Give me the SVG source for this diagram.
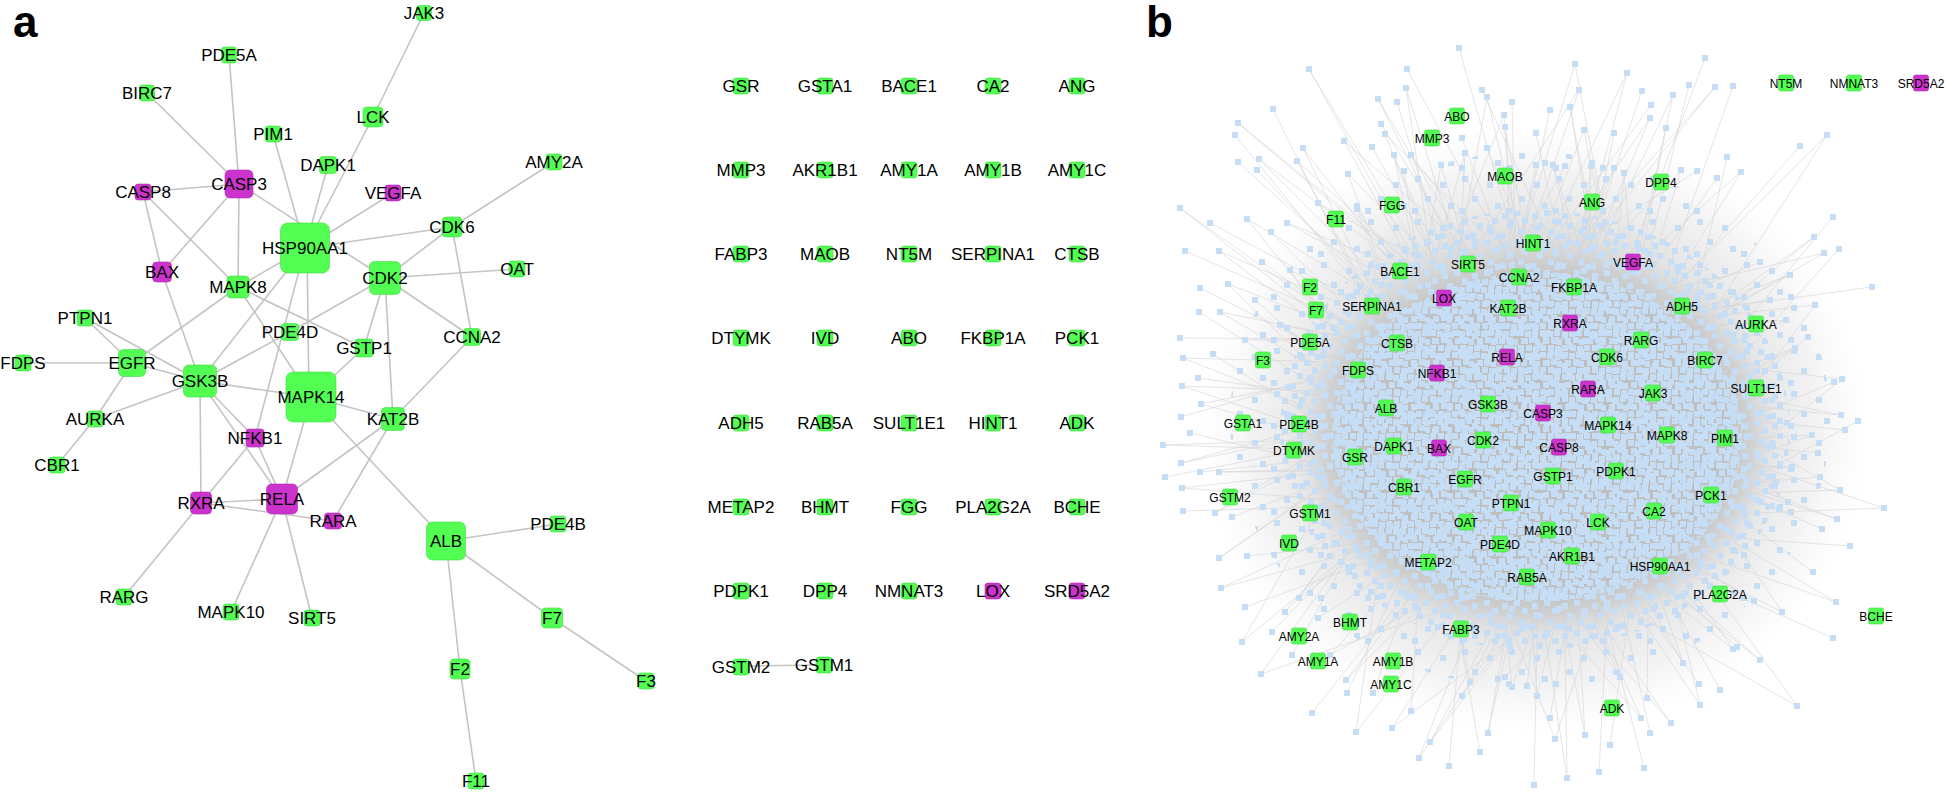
<svg xmlns="http://www.w3.org/2000/svg" width="1946" height="794" viewBox="0 0 1946 794">
<style>
text{font-family:"Liberation Sans",Arial,sans-serif;fill:#000;text-anchor:middle}
.t{font-size:17px}
.s{font-size:12px}
.e line{stroke:#c4c4c4;stroke-width:1.6}
.g{fill:#52ff52;stroke:#3fd83f;stroke-width:0.6}
.m{fill:#cc33cc;stroke:#b02cb0;stroke-width:0.6}
.big{font-size:44px;font-weight:bold;text-anchor:start}
</style>
<defs>
<pattern id="pD" width="22" height="22" patternUnits="userSpaceOnUse"><path fill="#c5ddf5" d="M0 0h6v6h-6zM7 1h6v6h-6zM14 0h6v6h-6zM3 8h6v6h-6zM11 7h6v6h-6zM17 9h5v6h-5zM0 15h6v6h-6zM8 15h6v6h-6zM15 16h6v6h-6z"/></pattern>
<pattern id="pM" width="30" height="30" patternUnits="userSpaceOnUse"><path fill="#c5ddf5" d="M2 3h6v6h-6zM14 0h6v6h-6zM22 8h6v6h-6zM7 13h6v6h-6zM18 19h6v6h-6zM0 23h6v6h-6zM25 24h5v6h-5z"/></pattern>
<pattern id="pS" width="47" height="43" patternUnits="userSpaceOnUse"><path fill="#c5ddf5" d="M5 4h6v6h-6zM30 10h6v6h-6zM15 24h6v6h-6zM38 31h6v6h-6zM2 36h6v6h-6z"/></pattern>
<radialGradient id="gh"><stop offset="0" stop-color="#c8c8c8" stop-opacity="1"/><stop offset="0.6" stop-color="#d2d2d2" stop-opacity="0.8"/><stop offset="0.85" stop-color="#e2e2e2" stop-opacity="0.4"/><stop offset="1" stop-color="#eeeeee" stop-opacity="0"/></radialGradient>
<radialGradient id="gc"><stop offset="0" stop-color="#bcbcbc"/><stop offset="0.78" stop-color="#c0c0c0"/><stop offset="0.9" stop-color="#cacaca" stop-opacity="0.6"/><stop offset="1" stop-color="#d8d8d8" stop-opacity="0"/></radialGradient>
</defs>
<rect width="1946" height="794" fill="#fff"/>
<text class="big" x="13" y="37">a</text>
<text class="big" x="1146" y="37">b</text>

<g id="edges-a" class="e">
<line x1="424" y1="13" x2="373" y2="117"/><line x1="373" y1="117" x2="305" y2="248"/><line x1="229" y1="55" x2="239" y2="184"/><line x1="147" y1="93" x2="239" y2="184"/><line x1="273" y1="134" x2="305" y2="248"/><line x1="328" y1="165" x2="305" y2="248"/><line x1="143" y1="192" x2="239" y2="184"/><line x1="239" y1="184" x2="385" y2="278"/><line x1="239" y1="184" x2="238" y2="287"/><line x1="239" y1="184" x2="162" y2="272"/><line x1="143" y1="192" x2="162" y2="272"/><line x1="143" y1="192" x2="238" y2="287"/><line x1="393" y1="193" x2="305" y2="248"/><line x1="554" y1="162" x2="452" y2="227"/><line x1="452" y1="227" x2="305" y2="248"/><line x1="452" y1="227" x2="385" y2="278"/><line x1="452" y1="227" x2="472" y2="337"/><line x1="517" y1="269" x2="385" y2="278"/><line x1="305" y1="248" x2="238" y2="287"/><line x1="307" y1="248" x2="309" y2="397"/><line x1="305" y1="248" x2="200" y2="381"/><line x1="305" y1="248" x2="255" y2="438"/><line x1="238" y1="287" x2="132" y2="363"/><line x1="238" y1="287" x2="364" y2="348"/><line x1="238" y1="287" x2="311" y2="397"/><line x1="385" y1="278" x2="290" y2="332"/><line x1="290" y1="332" x2="200" y2="381"/><line x1="385" y1="278" x2="364" y2="348"/><line x1="385" y1="278" x2="393" y2="419"/><line x1="385" y1="278" x2="472" y2="337"/><line x1="472" y1="337" x2="393" y2="419"/><line x1="364" y1="348" x2="311" y2="397"/><line x1="85" y1="318" x2="132" y2="363"/><line x1="85" y1="318" x2="200" y2="381"/><line x1="23" y1="363" x2="132" y2="363"/><line x1="132" y1="363" x2="200" y2="381"/><line x1="132" y1="363" x2="95" y2="419"/><line x1="162" y1="272" x2="200" y2="381"/><line x1="200" y1="381" x2="311" y2="397"/><line x1="200" y1="381" x2="95" y2="419"/><line x1="200" y1="381" x2="255" y2="438"/><line x1="200" y1="381" x2="282" y2="499"/><line x1="200" y1="381" x2="201" y2="503"/><line x1="311" y1="397" x2="282" y2="499"/><line x1="311" y1="397" x2="393" y2="419"/><line x1="311" y1="397" x2="446" y2="541"/><line x1="393" y1="419" x2="282" y2="499"/><line x1="393" y1="419" x2="333" y2="521"/><line x1="255" y1="438" x2="282" y2="499"/><line x1="255" y1="438" x2="201" y2="503"/><line x1="95" y1="419" x2="57" y2="465"/><line x1="201" y1="503" x2="282" y2="499"/><line x1="201" y1="503" x2="333" y2="521"/><line x1="201" y1="503" x2="124" y2="597"/><line x1="282" y1="499" x2="231" y2="612"/><line x1="282" y1="499" x2="312" y2="618"/><line x1="446" y1="541" x2="558" y2="524"/><line x1="446" y1="541" x2="552" y2="618"/><line x1="552" y1="618" x2="646" y2="681"/><line x1="446" y1="541" x2="460" y2="669"/><line x1="460" y1="669" x2="476" y2="781"/>
<line x1="749" y1="666" x2="816" y2="665"/>
</g>

<g id="nodes-a">
<g id="a-JAK3"><rect class="g" x="416.5" y="5.5" width="15" height="15" rx="3"/><text class="t" x="424" y="19">JAK3</text></g>
<g id="a-PDE5A"><rect class="g" x="221.5" y="47" width="15" height="16" rx="3"/><text class="t" x="229" y="61">PDE5A</text></g>
<g id="a-BIRC7"><rect class="g" x="139.5" y="85" width="15" height="16" rx="3"/><text class="t" x="147" y="99">BIRC7</text></g>
<g id="a-LCK"><rect class="g" x="363" y="107" width="20" height="20" rx="4"/><text class="t" x="373" y="123">LCK</text></g>
<g id="a-PIM1"><rect class="g" x="265" y="126" width="16" height="16" rx="3"/><text class="t" x="273" y="140">PIM1</text></g>
<g id="a-DAPK1"><rect class="g" x="319.5" y="156.5" width="17" height="17" rx="3"/><text class="t" x="328" y="171">DAPK1</text></g>
<g id="a-AMY2A"><rect class="g" x="546" y="154" width="16" height="16" rx="3"/><text class="t" x="554" y="168">AMY2A</text></g>
<g id="a-CASP3"><rect class="m" x="225" y="170" width="28" height="28" rx="5"/><text class="t" x="239" y="190">CASP3</text></g>
<g id="a-CASP8"><rect class="m" x="135" y="184" width="16" height="16" rx="3"/><text class="t" x="143" y="198">CASP8</text></g>
<g id="a-VEGFA"><rect class="m" x="385" y="185" width="16" height="16" rx="3"/><text class="t" x="393" y="199">VEGFA</text></g>
<g id="a-CDK6"><rect class="g" x="442" y="217" width="20" height="20" rx="4"/><text class="t" x="452" y="233">CDK6</text></g>
<g id="a-HSP90AA1"><rect class="g" x="280.5" y="223" width="49" height="50" rx="7"/><text class="t" x="305" y="254">HSP90AA1</text></g>
<g id="a-BAX"><rect class="m" x="152.5" y="262" width="19" height="20" rx="4"/><text class="t" x="162" y="278">BAX</text></g>
<g id="a-MAPK8"><rect class="g" x="227" y="276" width="22" height="22" rx="4"/><text class="t" x="238" y="293">MAPK8</text></g>
<g id="a-CDK2"><rect class="g" x="369.5" y="261.5" width="31" height="33" rx="5"/><text class="t" x="385" y="284">CDK2</text></g>
<g id="a-OAT"><rect class="g" x="509" y="261" width="16" height="16" rx="3"/><text class="t" x="517" y="275">OAT</text></g>
<g id="a-PTPN1"><rect class="g" x="77" y="310" width="16" height="16" rx="3"/><text class="t" x="85" y="324">PTPN1</text></g>
<g id="a-PDE4D"><rect class="g" x="281.5" y="323.5" width="17" height="17" rx="3"/><text class="t" x="290" y="338">PDE4D</text></g>
<g id="a-GSTP1"><rect class="g" x="355" y="339" width="18" height="18" rx="3"/><text class="t" x="364" y="354">GSTP1</text></g>
<g id="a-CCNA2"><rect class="g" x="463.5" y="328.5" width="17" height="17" rx="3"/><text class="t" x="472" y="343">CCNA2</text></g>
<g id="a-FDPS"><rect class="g" x="15" y="355" width="16" height="16" rx="3"/><text class="t" x="23" y="369">FDPS</text></g>
<g id="a-EGFR"><rect class="g" x="118.5" y="349.5" width="27" height="27" rx="5"/><text class="t" x="132" y="369">EGFR</text></g>
<g id="a-GSK3B"><rect class="g" x="183.5" y="365" width="33" height="32" rx="5"/><text class="t" x="200" y="387">GSK3B</text></g>
<g id="a-MAPK14"><rect class="g" x="286" y="372" width="50" height="50" rx="7"/><text class="t" x="311" y="403">MAPK14</text></g>
<g id="a-KAT2B"><rect class="g" x="381.5" y="407.5" width="23" height="23" rx="4"/><text class="t" x="393" y="425">KAT2B</text></g>
<g id="a-AURKA"><rect class="g" x="87" y="411" width="16" height="16" rx="3"/><text class="t" x="95" y="425">AURKA</text></g>
<g id="a-NFKB1"><rect class="m" x="246" y="429" width="18" height="18" rx="3"/><text class="t" x="255" y="444">NFKB1</text></g>
<g id="a-CBR1"><rect class="g" x="49" y="457" width="16" height="16" rx="3"/><text class="t" x="57" y="471">CBR1</text></g>
<g id="a-RXRA"><rect class="m" x="190.5" y="492" width="21" height="22" rx="4"/><text class="t" x="201" y="509">RXRA</text></g>
<g id="a-RELA"><rect class="m" x="266.5" y="484" width="31" height="30" rx="5"/><text class="t" x="282" y="505">RELA</text></g>
<g id="a-RARA"><rect class="m" x="324.5" y="513" width="17" height="16" rx="3"/><text class="t" x="333" y="527">RARA</text></g>
<g id="a-ALB"><rect class="g" x="426.5" y="522" width="39" height="38" rx="6"/><text class="t" x="446" y="547">ALB</text></g>
<g id="a-PDE4B"><rect class="g" x="550" y="516" width="16" height="16" rx="3"/><text class="t" x="558" y="530">PDE4B</text></g>
<g id="a-RARG"><rect class="g" x="116" y="589" width="16" height="16" rx="3"/><text class="t" x="124" y="603">RARG</text></g>
<g id="a-MAPK10"><rect class="g" x="223" y="604" width="16" height="16" rx="3"/><text class="t" x="231" y="618">MAPK10</text></g>
<g id="a-SIRT5"><rect class="g" x="304" y="610" width="16" height="16" rx="3"/><text class="t" x="312" y="624">SIRT5</text></g>
<g id="a-F7"><rect class="g" x="541.5" y="608" width="21" height="20" rx="4"/><text class="t" x="552" y="624">F7</text></g>
<g id="a-F2"><rect class="g" x="450" y="659" width="20" height="20" rx="4"/><text class="t" x="460" y="675">F2</text></g>
<g id="a-F3"><rect class="g" x="638" y="673" width="16" height="16" rx="3"/><text class="t" x="646" y="687">F3</text></g>
<g id="a-F11"><rect class="g" x="468" y="773" width="16" height="16" rx="3"/><text class="t" x="476" y="787">F11</text></g>
</g>

<g id="nodes-grid">
<g id="c-GSR"><rect class="g" x="733" y="78" width="16" height="16" rx="3"/><text class="t" x="741" y="92">GSR</text></g>
<g id="c-GSTA1"><rect class="g" x="817" y="78" width="16" height="16" rx="3"/><text class="t" x="825" y="92">GSTA1</text></g>
<g id="c-BACE1"><rect class="g" x="901" y="78" width="16" height="16" rx="3"/><text class="t" x="909" y="92">BACE1</text></g>
<g id="c-CA2"><rect class="g" x="985" y="78" width="16" height="16" rx="3"/><text class="t" x="993" y="92">CA2</text></g>
<g id="c-ANG"><rect class="g" x="1069" y="78" width="16" height="16" rx="3"/><text class="t" x="1077" y="92">ANG</text></g>
<g id="c-MMP3"><rect class="g" x="733" y="162" width="16" height="16" rx="3"/><text class="t" x="741" y="176">MMP3</text></g>
<g id="c-AKR1B1"><rect class="g" x="817" y="162" width="16" height="16" rx="3"/><text class="t" x="825" y="176">AKR1B1</text></g>
<g id="c-AMY1A"><rect class="g" x="901" y="162" width="16" height="16" rx="3"/><text class="t" x="909" y="176">AMY1A</text></g>
<g id="c-AMY1B"><rect class="g" x="985" y="162" width="16" height="16" rx="3"/><text class="t" x="993" y="176">AMY1B</text></g>
<g id="c-AMY1C"><rect class="g" x="1069" y="162" width="16" height="16" rx="3"/><text class="t" x="1077" y="176">AMY1C</text></g>
<g id="c-FABP3"><rect class="g" x="733" y="246" width="16" height="16" rx="3"/><text class="t" x="741" y="260">FABP3</text></g>
<g id="c-MAOB"><rect class="g" x="817" y="246" width="16" height="16" rx="3"/><text class="t" x="825" y="260">MAOB</text></g>
<g id="c-NT5M"><rect class="g" x="901" y="246" width="16" height="16" rx="3"/><text class="t" x="909" y="260">NT5M</text></g>
<g id="c-SERPINA1"><rect class="g" x="985" y="246" width="16" height="16" rx="3"/><text class="t" x="993" y="260">SERPINA1</text></g>
<g id="c-CTSB"><rect class="g" x="1069" y="246" width="16" height="16" rx="3"/><text class="t" x="1077" y="260">CTSB</text></g>
<g id="c-DTYMK"><rect class="g" x="733" y="330" width="16" height="16" rx="3"/><text class="t" x="741" y="344">DTYMK</text></g>
<g id="c-IVD"><rect class="g" x="817" y="330" width="16" height="16" rx="3"/><text class="t" x="825" y="344">IVD</text></g>
<g id="c-ABO"><rect class="g" x="901" y="330" width="16" height="16" rx="3"/><text class="t" x="909" y="344">ABO</text></g>
<g id="c-FKBP1A"><rect class="g" x="985" y="330" width="16" height="16" rx="3"/><text class="t" x="993" y="344">FKBP1A</text></g>
<g id="c-PCK1"><rect class="g" x="1069" y="330" width="16" height="16" rx="3"/><text class="t" x="1077" y="344">PCK1</text></g>
<g id="c-ADH5"><rect class="g" x="733" y="415" width="16" height="16" rx="3"/><text class="t" x="741" y="429">ADH5</text></g>
<g id="c-RAB5A"><rect class="g" x="817" y="415" width="16" height="16" rx="3"/><text class="t" x="825" y="429">RAB5A</text></g>
<g id="c-SULT1E1"><rect class="g" x="901" y="415" width="16" height="16" rx="3"/><text class="t" x="909" y="429">SULT1E1</text></g>
<g id="c-HINT1"><rect class="g" x="985" y="415" width="16" height="16" rx="3"/><text class="t" x="993" y="429">HINT1</text></g>
<g id="c-ADK"><rect class="g" x="1069" y="415" width="16" height="16" rx="3"/><text class="t" x="1077" y="429">ADK</text></g>
<g id="c-METAP2"><rect class="g" x="733" y="499" width="16" height="16" rx="3"/><text class="t" x="741" y="513">METAP2</text></g>
<g id="c-BHMT"><rect class="g" x="817" y="499" width="16" height="16" rx="3"/><text class="t" x="825" y="513">BHMT</text></g>
<g id="c-FGG"><rect class="g" x="901" y="499" width="16" height="16" rx="3"/><text class="t" x="909" y="513">FGG</text></g>
<g id="c-PLA2G2A"><rect class="g" x="985" y="499" width="16" height="16" rx="3"/><text class="t" x="993" y="513">PLA2G2A</text></g>
<g id="c-BCHE"><rect class="g" x="1069" y="499" width="16" height="16" rx="3"/><text class="t" x="1077" y="513">BCHE</text></g>
<g id="c-PDPK1"><rect class="g" x="733" y="583" width="16" height="16" rx="3"/><text class="t" x="741" y="597">PDPK1</text></g>
<g id="c-DPP4"><rect class="g" x="817" y="583" width="16" height="16" rx="3"/><text class="t" x="825" y="597">DPP4</text></g>
<g id="c-NMNAT3"><rect class="g" x="901" y="583" width="16" height="16" rx="3"/><text class="t" x="909" y="597">NMNAT3</text></g>
<g id="c-LOX"><rect class="m" x="985" y="583" width="16" height="16" rx="3"/><text class="t" x="993" y="597">LOX</text></g>
<g id="c-SRD5A2"><rect class="m" x="1069" y="583" width="16" height="16" rx="3"/><text class="t" x="1077" y="597">SRD5A2</text></g>
<g id="c-GSTM2"><rect class="g" x="733" y="659" width="16" height="16" rx="3"/><text class="t" x="741" y="673">GSTM2</text></g>
<g id="c-GSTM1"><rect class="g" x="816" y="657" width="16" height="16" rx="3"/><text class="t" x="824" y="671">GSTM1</text></g>
</g>

<g id="cloud-b">
<ellipse cx="1535" cy="430" rx="335" ry="305" fill="url(#gh)"/>
<path fill="none" stroke="#d3d3d3" stroke-width="0.6" d="M1459 48L1560 400M1309 69L1520 450M1309 69L1580 520M1407 69L1600 430M1575 64L1450 470M1575 64L1650 460M1705 58L1540 500M1627 73L1500 340M1627 73L1560 330M1689 85L1620 370M1715 87L1430 410M1715 87L1480 380M1733 86L1580 520M1406 88L1470 520M1406 88L1520 450M1482 90L1650 460M1579 90L1410 350M1579 90L1450 470M1642 91L1560 330M1378 99L1640 540M1378 99L1500 340M1397 102L1480 380M1487 97L1560 400M1487 97L1430 410M1512 102L1520 450M1673 95L1600 430M1673 95L1470 520M1273 109L1450 470M1504 115L1540 500M1504 115L1410 350M1550 110L1500 340M1570 107L1620 370M1570 107L1640 540M1651 105L1430 410M1827 135L1580 520M1827 135L1560 400M1800 146L1470 520M1238 123L1650 460M1238 123L1600 430M1235 135L1410 350M1344 141L1560 330M1344 141L1540 500M1381 124L1640 540M1385 134L1480 380M1385 134L1620 370M1462 138L1560 400M1505 127L1520 450M1505 127L1580 520M1536 133L1600 430M1584 130L1450 470M1584 130L1650 460M1614 133L1540 500M1650 118L1500 340M1650 118L1560 330M1666 128L1620 370M1303 148L1430 410M1303 148L1480 380M1372 147L1580 520M1394 155L1470 520M1394 155L1520 450M1411 155L1650 460M1465 153L1410 350M1465 153L1450 470M1487 148L1560 330M1259 159L1640 540M1259 159L1500 340M1238 162L1480 380M1297 161L1560 400M1297 161L1430 410M1257 170L1520 450M1348 174L1600 430M1348 174L1470 520M1404 171L1450 470M1441 165L1540 500M1441 165L1410 350M1536 165L1500 340M1553 165L1620 370M1553 165L1640 540M1565 166L1430 410M1591 166L1580 520M1591 166L1560 400M1614 168L1470 520M1624 173L1650 460M1624 173L1600 430M1697 171L1410 350M1741 172L1560 330M1741 172L1540 500M1727 157L1640 540M1681 170L1480 380M1681 170L1620 370M1717 178L1560 400M1180 208L1520 450M1180 208L1580 520M1210 223L1600 430M1247 219L1450 470M1247 219L1650 460M1271 232L1540 500M1287 223L1500 340M1287 223L1560 330M1318 203L1620 370M1357 209L1430 410M1357 209L1480 380M1833 217L1580 520M1814 237L1470 520M1814 237L1520 450M1839 249L1650 460M1824 253L1410 350M1824 253L1450 470M1872 287L1560 330M1842 379L1640 540M1842 379L1500 340M1185 251L1480 380M1219 251L1560 400M1219 251L1430 410M1200 288L1520 450M1228 284L1600 430M1228 284L1470 520M1199 312L1450 470M1220 312L1540 500M1220 312L1410 350M1180 338L1500 340M1183 358L1620 370M1183 358L1640 540M1198 378L1430 410M1182 386L1580 520M1182 386L1560 400M1213 354L1470 520M1163 445L1650 460M1163 445L1600 430M1181 417L1410 350M1201 404L1560 330M1201 404L1540 500M1190 433L1640 540M1181 463L1480 380M1181 463L1620 370M1165 477L1560 400M1182 488L1520 450M1182 488L1580 520M1200 472L1600 430M1219 472L1450 470M1219 472L1650 460M1183 511L1540 500M1215 513L1500 340M1215 513L1560 330M1232 517L1620 370M1219 558L1430 410M1219 558L1480 380M1247 556L1580 520M1221 588L1470 520M1221 588L1520 450M1245 607L1650 460M1242 642L1410 350M1242 642L1450 470M1272 632L1560 330M1261 674L1640 540M1261 674L1500 340M1285 612L1480 380M1299 598L1560 400M1299 598L1430 410M1312 713L1520 450M1346 680L1600 430M1346 680L1470 520M1347 693L1450 470M1356 732L1540 500M1356 732L1410 350M1373 693L1500 340M1392 728L1620 370M1392 728L1640 540M1411 711L1430 410M1419 758L1580 520M1419 758L1560 400M1449 766L1470 520M1462 696L1650 460M1462 696L1600 430M1470 682L1410 350M1488 733L1560 330M1488 733L1540 500M1505 677L1640 540M1512 687L1480 380M1512 687L1620 370M1527 686L1560 400M1537 696L1520 450M1537 696L1580 520M1550 718L1600 430M1555 739L1450 470M1555 739L1650 460M1534 785L1540 500M1567 778L1500 340M1567 778L1560 330M1599 772L1620 370M1620 677L1430 410M1620 677L1480 380M1644 768L1580 520M1641 718L1470 520M1641 718L1520 450M1647 698L1650 460M1671 723L1410 350M1671 723L1450 470M1650 733L1560 330M1683 663L1640 540M1683 663L1500 340M1699 684L1480 380M1733 649L1560 400M1733 649L1430 410M1737 647L1520 450M1797 706L1600 430M1797 706L1470 520M1833 638L1450 470M1836 602L1540 500M1836 602L1410 350M1813 572L1500 340M1782 612L1620 370M1782 612L1640 540M1754 601L1430 410M1884 508L1580 520M1884 508L1560 400M1850 546L1470 520M1837 519L1650 460M1837 519L1600 430M1822 529L1410 350M1840 490L1560 330M1840 490L1540 500M1858 421L1640 540M1841 415L1480 380M1841 415L1620 370M1845 430L1560 400M1812 435L1520 450M1812 435L1580 520M1818 453L1600 430M1792 467L1450 470M1792 467L1650 460M1820 477L1540 500M1776 482L1500 340M1776 482L1560 330M1788 502L1620 370M1779 509L1430 410M1779 509L1480 380M1808 337L1580 520M1795 348L1470 520M1795 348L1520 450M1834 382L1650 460M1786 320L1410 350M1786 320L1450 470M1770 300L1560 330M1815 305L1640 540M1815 305L1500 340M1760 262L1480 380M1790 275L1560 400M1790 275L1430 410M1262 262L1520 450M1290 270L1600 430M1290 270L1470 520M1255 300L1450 470M1280 325L1540 500M1280 325L1410 350M1245 340L1500 340M1300 355L1620 370M1300 355L1640 540M1292 655L1430 410M1330 655L1580 520M1330 655L1560 400M1318 618L1470 520M1430 742L1650 460M1430 742L1600 430M1480 752L1410 350M1585 735L1560 330M1585 735L1540 500M1610 745L1640 540M1700 705L1480 380M1700 705L1620 370M1720 690L1560 400M1760 660L1520 450M1760 660L1580 520"/>
<ellipse cx="1537" cy="437" rx="240" ry="198" fill="url(#gc)"/>
<ellipse cx="1530" cy="420" rx="300" ry="268" fill="url(#pS)"/>
<ellipse cx="1535" cy="430" rx="255" ry="220" fill="url(#pM)"/>
<ellipse cx="1537" cy="437" rx="205" ry="165" fill="url(#pD)"/>
<path fill="#c5ddf5" d="M1456 45h6v6h-6zM1306 66h6v6h-6zM1404 66h6v6h-6zM1572 61h6v6h-6zM1702 55h6v6h-6zM1624 70h6v6h-6zM1686 82h6v6h-6zM1712 84h6v6h-6zM1730 83h6v6h-6zM1403 85h6v6h-6zM1479 87h6v6h-6zM1576 87h6v6h-6zM1639 88h6v6h-6zM1375 96h6v6h-6zM1394 99h6v6h-6zM1484 94h6v6h-6zM1509 99h6v6h-6zM1670 92h6v6h-6zM1270 106h6v6h-6zM1501 112h6v6h-6zM1547 107h6v6h-6zM1567 104h6v6h-6zM1648 102h6v6h-6zM1824 132h6v6h-6zM1797 143h6v6h-6zM1235 120h6v6h-6zM1232 132h6v6h-6zM1341 138h6v6h-6zM1378 121h6v6h-6zM1382 131h6v6h-6zM1459 135h6v6h-6zM1502 124h6v6h-6zM1533 130h6v6h-6zM1581 127h6v6h-6zM1611 130h6v6h-6zM1647 115h6v6h-6zM1663 125h6v6h-6zM1300 145h6v6h-6zM1369 144h6v6h-6zM1391 152h6v6h-6zM1408 152h6v6h-6zM1462 150h6v6h-6zM1484 145h6v6h-6zM1256 156h6v6h-6zM1235 159h6v6h-6zM1294 158h6v6h-6zM1254 167h6v6h-6zM1345 171h6v6h-6zM1401 168h6v6h-6zM1438 162h6v6h-6zM1533 162h6v6h-6zM1550 162h6v6h-6zM1562 163h6v6h-6zM1588 163h6v6h-6zM1611 165h6v6h-6zM1621 170h6v6h-6zM1694 168h6v6h-6zM1738 169h6v6h-6zM1724 154h6v6h-6zM1678 167h6v6h-6zM1714 175h6v6h-6zM1177 205h6v6h-6zM1207 220h6v6h-6zM1244 216h6v6h-6zM1268 229h6v6h-6zM1284 220h6v6h-6zM1315 200h6v6h-6zM1354 206h6v6h-6zM1830 214h6v6h-6zM1811 234h6v6h-6zM1836 246h6v6h-6zM1821 250h6v6h-6zM1869 284h6v6h-6zM1839 376h6v6h-6zM1182 248h6v6h-6zM1216 248h6v6h-6zM1197 285h6v6h-6zM1225 281h6v6h-6zM1196 309h6v6h-6zM1217 309h6v6h-6zM1177 335h6v6h-6zM1180 355h6v6h-6zM1195 375h6v6h-6zM1179 383h6v6h-6zM1210 351h6v6h-6zM1160 442h6v6h-6zM1178 414h6v6h-6zM1198 401h6v6h-6zM1187 430h6v6h-6zM1178 460h6v6h-6zM1162 474h6v6h-6zM1179 485h6v6h-6zM1197 469h6v6h-6zM1216 469h6v6h-6zM1180 508h6v6h-6zM1212 510h6v6h-6zM1229 514h6v6h-6zM1216 555h6v6h-6zM1244 553h6v6h-6zM1218 585h6v6h-6zM1242 604h6v6h-6zM1239 639h6v6h-6zM1269 629h6v6h-6zM1258 671h6v6h-6zM1282 609h6v6h-6zM1296 595h6v6h-6zM1309 710h6v6h-6zM1343 677h6v6h-6zM1344 690h6v6h-6zM1353 729h6v6h-6zM1370 690h6v6h-6zM1389 725h6v6h-6zM1408 708h6v6h-6zM1416 755h6v6h-6zM1446 763h6v6h-6zM1459 693h6v6h-6zM1467 679h6v6h-6zM1485 730h6v6h-6zM1502 674h6v6h-6zM1509 684h6v6h-6zM1524 683h6v6h-6zM1534 693h6v6h-6zM1547 715h6v6h-6zM1552 736h6v6h-6zM1531 782h6v6h-6zM1564 775h6v6h-6zM1596 769h6v6h-6zM1617 674h6v6h-6zM1641 765h6v6h-6zM1638 715h6v6h-6zM1644 695h6v6h-6zM1668 720h6v6h-6zM1647 730h6v6h-6zM1680 660h6v6h-6zM1696 681h6v6h-6zM1730 646h6v6h-6zM1734 644h6v6h-6zM1794 703h6v6h-6zM1830 635h6v6h-6zM1833 599h6v6h-6zM1810 569h6v6h-6zM1779 609h6v6h-6zM1751 598h6v6h-6zM1881 505h6v6h-6zM1847 543h6v6h-6zM1834 516h6v6h-6zM1819 526h6v6h-6zM1837 487h6v6h-6zM1855 418h6v6h-6zM1838 412h6v6h-6zM1842 427h6v6h-6zM1809 432h6v6h-6zM1815 450h6v6h-6zM1789 464h6v6h-6zM1817 474h6v6h-6zM1773 479h6v6h-6zM1785 499h6v6h-6zM1776 506h6v6h-6zM1805 334h6v6h-6zM1792 345h6v6h-6zM1831 379h6v6h-6zM1783 317h6v6h-6zM1767 297h6v6h-6zM1812 302h6v6h-6zM1757 259h6v6h-6zM1787 272h6v6h-6zM1259 259h6v6h-6zM1287 267h6v6h-6zM1252 297h6v6h-6zM1277 322h6v6h-6zM1242 337h6v6h-6zM1297 352h6v6h-6zM1289 652h6v6h-6zM1327 652h6v6h-6zM1315 615h6v6h-6zM1427 739h6v6h-6zM1477 749h6v6h-6zM1582 732h6v6h-6zM1607 742h6v6h-6zM1697 702h6v6h-6zM1717 687h6v6h-6zM1757 657h6v6h-6z"/>
</g>

<g id="nodes-b">
<g id="b-NT5M"><rect class="g" x="1778.5" y="75" width="15" height="16" rx="2"/><text class="s" x="1786" y="87.5">NT5M</text></g>
<g id="b-NMNAT3"><rect class="g" x="1846.5" y="75" width="15" height="16" rx="2"/><text class="s" x="1854" y="87.5">NMNAT3</text></g>
<g id="b-SRD5A2"><rect class="m" x="1913.5" y="75" width="15" height="16" rx="2"/><text class="s" x="1921" y="87.5">SRD5A2</text></g>
<g id="b-ABO"><rect class="g" x="1449.5" y="108" width="15" height="16" rx="2"/><text class="s" x="1457" y="120.5">ABO</text></g>
<g id="b-MMP3"><rect class="g" x="1424.5" y="130" width="15" height="16" rx="2"/><text class="s" x="1432" y="142.5">MMP3</text></g>
<g id="b-MAOB"><rect class="g" x="1497.5" y="168" width="15" height="16" rx="2"/><text class="s" x="1505" y="180.5">MAOB</text></g>
<g id="b-DPP4"><rect class="g" x="1653.5" y="174" width="15" height="16" rx="2"/><text class="s" x="1661" y="186.5">DPP4</text></g>
<g id="b-FGG"><rect class="g" x="1384.5" y="197" width="15" height="16" rx="2"/><text class="s" x="1392" y="209.5">FGG</text></g>
<g id="b-ANG"><rect class="g" x="1584.5" y="194" width="15" height="16" rx="2"/><text class="s" x="1592" y="206.5">ANG</text></g>
<g id="b-F11"><rect class="g" x="1328.5" y="211" width="15" height="16" rx="2"/><text class="s" x="1336" y="223.5">F11</text></g>
<g id="b-HINT1"><rect class="g" x="1525.5" y="235" width="15" height="16" rx="2"/><text class="s" x="1533" y="247.5">HINT1</text></g>
<g id="b-VEGFA"><rect class="m" x="1625.5" y="254" width="15" height="16" rx="2"/><text class="s" x="1633" y="266.5">VEGFA</text></g>
<g id="b-SIRT5"><rect class="g" x="1460.5" y="256" width="15" height="16" rx="2"/><text class="s" x="1468" y="268.5">SIRT5</text></g>
<g id="b-BACE1"><rect class="g" x="1392.5" y="263" width="15" height="16" rx="2"/><text class="s" x="1400" y="275.5">BACE1</text></g>
<g id="b-CCNA2"><rect class="g" x="1511.5" y="269" width="15" height="16" rx="2"/><text class="s" x="1519" y="281.5">CCNA2</text></g>
<g id="b-F2"><rect class="g" x="1302.5" y="279" width="15" height="16" rx="2"/><text class="s" x="1310" y="291.5">F2</text></g>
<g id="b-FKBP1A"><rect class="g" x="1566.5" y="279" width="15" height="16" rx="2"/><text class="s" x="1574" y="291.5">FKBP1A</text></g>
<g id="b-LOX"><rect class="m" x="1436.5" y="290" width="15" height="16" rx="2"/><text class="s" x="1444" y="302.5">LOX</text></g>
<g id="b-F7"><rect class="g" x="1308.5" y="302" width="15" height="16" rx="2"/><text class="s" x="1316" y="314.5">F7</text></g>
<g id="b-SERPINA1"><rect class="g" x="1364.5" y="298" width="15" height="16" rx="2"/><text class="s" x="1372" y="310.5">SERPINA1</text></g>
<g id="b-KAT2B"><rect class="g" x="1500.5" y="300" width="15" height="16" rx="2"/><text class="s" x="1508" y="312.5">KAT2B</text></g>
<g id="b-ADH5"><rect class="g" x="1674.5" y="298" width="15" height="16" rx="2"/><text class="s" x="1682" y="310.5">ADH5</text></g>
<g id="b-RXRA"><rect class="m" x="1562.5" y="315" width="15" height="16" rx="2"/><text class="s" x="1570" y="327.5">RXRA</text></g>
<g id="b-AURKA"><rect class="g" x="1748.5" y="316" width="15" height="16" rx="2"/><text class="s" x="1756" y="328.5">AURKA</text></g>
<g id="b-PDE5A"><rect class="g" x="1302.5" y="334" width="15" height="16" rx="2"/><text class="s" x="1310" y="346.5">PDE5A</text></g>
<g id="b-CTSB"><rect class="g" x="1389.5" y="335" width="15" height="16" rx="2"/><text class="s" x="1397" y="347.5">CTSB</text></g>
<g id="b-RARG"><rect class="g" x="1633.5" y="332" width="15" height="16" rx="2"/><text class="s" x="1641" y="344.5">RARG</text></g>
<g id="b-F3"><rect class="g" x="1255.5" y="352" width="15" height="16" rx="2"/><text class="s" x="1263" y="364.5">F3</text></g>
<g id="b-RELA"><rect class="m" x="1499.5" y="349" width="15" height="16" rx="2"/><text class="s" x="1507" y="361.5">RELA</text></g>
<g id="b-CDK6"><rect class="g" x="1599.5" y="349" width="15" height="16" rx="2"/><text class="s" x="1607" y="361.5">CDK6</text></g>
<g id="b-BIRC7"><rect class="g" x="1697.5" y="352" width="15" height="16" rx="2"/><text class="s" x="1705" y="364.5">BIRC7</text></g>
<g id="b-FDPS"><rect class="g" x="1350.5" y="362" width="15" height="16" rx="2"/><text class="s" x="1358" y="374.5">FDPS</text></g>
<g id="b-NFKB1"><rect class="m" x="1429.5" y="365" width="15" height="16" rx="2"/><text class="s" x="1437" y="377.5">NFKB1</text></g>
<g id="b-RARA"><rect class="m" x="1580.5" y="381" width="15" height="16" rx="2"/><text class="s" x="1588" y="393.5">RARA</text></g>
<g id="b-JAK3"><rect class="g" x="1645.5" y="385" width="15" height="16" rx="2"/><text class="s" x="1653" y="397.5">JAK3</text></g>
<g id="b-SULT1E1"><rect class="g" x="1748.5" y="380" width="15" height="16" rx="2"/><text class="s" x="1756" y="392.5">SULT1E1</text></g>
<g id="b-ALB"><rect class="g" x="1378.5" y="400" width="15" height="16" rx="2"/><text class="s" x="1386" y="412.5">ALB</text></g>
<g id="b-GSK3B"><rect class="g" x="1480.5" y="396" width="15" height="16" rx="2"/><text class="s" x="1488" y="408.5">GSK3B</text></g>
<g id="b-CASP3"><rect class="m" x="1535.5" y="405" width="15" height="16" rx="2"/><text class="s" x="1543" y="417.5">CASP3</text></g>
<g id="b-GSTA1"><rect class="g" x="1235.5" y="415" width="15" height="16" rx="2"/><text class="s" x="1243" y="427.5">GSTA1</text></g>
<g id="b-PDE4B"><rect class="g" x="1291.5" y="416" width="15" height="16" rx="2"/><text class="s" x="1299" y="428.5">PDE4B</text></g>
<g id="b-MAPK14"><rect class="g" x="1600.5" y="417" width="15" height="16" rx="2"/><text class="s" x="1608" y="429.5">MAPK14</text></g>
<g id="b-MAPK8"><rect class="g" x="1659.5" y="427" width="15" height="16" rx="2"/><text class="s" x="1667" y="439.5">MAPK8</text></g>
<g id="b-PIM1"><rect class="g" x="1717.5" y="430" width="15" height="16" rx="2"/><text class="s" x="1725" y="442.5">PIM1</text></g>
<g id="b-DTYMK"><rect class="g" x="1286.5" y="442" width="15" height="16" rx="2"/><text class="s" x="1294" y="454.5">DTYMK</text></g>
<g id="b-DAPK1"><rect class="g" x="1386.5" y="438" width="15" height="16" rx="2"/><text class="s" x="1394" y="450.5">DAPK1</text></g>
<g id="b-BAX"><rect class="m" x="1431.5" y="440" width="15" height="16" rx="2"/><text class="s" x="1439" y="452.5">BAX</text></g>
<g id="b-CDK2"><rect class="g" x="1475.5" y="432" width="15" height="16" rx="2"/><text class="s" x="1483" y="444.5">CDK2</text></g>
<g id="b-CASP8"><rect class="m" x="1551.5" y="439" width="15" height="16" rx="2"/><text class="s" x="1559" y="451.5">CASP8</text></g>
<g id="b-GSR"><rect class="g" x="1347.5" y="449" width="15" height="16" rx="2"/><text class="s" x="1355" y="461.5">GSR</text></g>
<g id="b-PDPK1"><rect class="g" x="1608.5" y="463" width="15" height="16" rx="2"/><text class="s" x="1616" y="475.5">PDPK1</text></g>
<g id="b-GSTP1"><rect class="g" x="1545.5" y="468" width="15" height="16" rx="2"/><text class="s" x="1553" y="480.5">GSTP1</text></g>
<g id="b-EGFR"><rect class="g" x="1457.5" y="471" width="15" height="16" rx="2"/><text class="s" x="1465" y="483.5">EGFR</text></g>
<g id="b-CBR1"><rect class="g" x="1396.5" y="479" width="15" height="16" rx="2"/><text class="s" x="1404" y="491.5">CBR1</text></g>
<g id="b-GSTM2"><rect class="g" x="1222.5" y="489" width="15" height="16" rx="2"/><text class="s" x="1230" y="501.5">GSTM2</text></g>
<g id="b-PCK1"><rect class="g" x="1703.5" y="487" width="15" height="16" rx="2"/><text class="s" x="1711" y="499.5">PCK1</text></g>
<g id="b-PTPN1"><rect class="g" x="1503.5" y="495" width="15" height="16" rx="2"/><text class="s" x="1511" y="507.5">PTPN1</text></g>
<g id="b-GSTM1"><rect class="g" x="1302.5" y="505" width="15" height="16" rx="2"/><text class="s" x="1310" y="517.5">GSTM1</text></g>
<g id="b-CA2"><rect class="g" x="1646.5" y="503" width="15" height="16" rx="2"/><text class="s" x="1654" y="515.5">CA2</text></g>
<g id="b-OAT"><rect class="g" x="1458.5" y="514" width="15" height="16" rx="2"/><text class="s" x="1466" y="526.5">OAT</text></g>
<g id="b-LCK"><rect class="g" x="1590.5" y="514" width="15" height="16" rx="2"/><text class="s" x="1598" y="526.5">LCK</text></g>
<g id="b-MAPK10"><rect class="g" x="1540.5" y="522" width="15" height="16" rx="2"/><text class="s" x="1548" y="534.5">MAPK10</text></g>
<g id="b-IVD"><rect class="g" x="1281.5" y="535" width="15" height="16" rx="2"/><text class="s" x="1289" y="547.5">IVD</text></g>
<g id="b-PDE4D"><rect class="g" x="1492.5" y="536" width="15" height="16" rx="2"/><text class="s" x="1500" y="548.5">PDE4D</text></g>
<g id="b-AKR1B1"><rect class="g" x="1564.5" y="548" width="15" height="16" rx="2"/><text class="s" x="1572" y="560.5">AKR1B1</text></g>
<g id="b-METAP2"><rect class="g" x="1420.5" y="554" width="15" height="16" rx="2"/><text class="s" x="1428" y="566.5">METAP2</text></g>
<g id="b-HSP90AA1"><rect class="g" x="1652.5" y="558" width="15" height="16" rx="2"/><text class="s" x="1660" y="570.5">HSP90AA1</text></g>
<g id="b-RAB5A"><rect class="g" x="1519.5" y="569" width="15" height="16" rx="2"/><text class="s" x="1527" y="581.5">RAB5A</text></g>
<g id="b-PLA2G2A"><rect class="g" x="1712.5" y="586" width="15" height="16" rx="2"/><text class="s" x="1720" y="598.5">PLA2G2A</text></g>
<g id="b-BCHE"><rect class="g" x="1868.5" y="608" width="15" height="16" rx="2"/><text class="s" x="1876" y="620.5">BCHE</text></g>
<g id="b-BHMT"><rect class="g" x="1342.5" y="614" width="15" height="16" rx="2"/><text class="s" x="1350" y="626.5">BHMT</text></g>
<g id="b-FABP3"><rect class="g" x="1453.5" y="621" width="15" height="16" rx="2"/><text class="s" x="1461" y="633.5">FABP3</text></g>
<g id="b-AMY2A"><rect class="g" x="1291.5" y="628" width="15" height="16" rx="2"/><text class="s" x="1299" y="640.5">AMY2A</text></g>
<g id="b-AMY1A"><rect class="g" x="1310.5" y="653" width="15" height="16" rx="2"/><text class="s" x="1318" y="665.5">AMY1A</text></g>
<g id="b-AMY1B"><rect class="g" x="1385.5" y="653" width="15" height="16" rx="2"/><text class="s" x="1393" y="665.5">AMY1B</text></g>
<g id="b-AMY1C"><rect class="g" x="1383.5" y="676" width="15" height="16" rx="2"/><text class="s" x="1391" y="688.5">AMY1C</text></g>
<g id="b-ADK"><rect class="g" x="1604.5" y="700" width="15" height="16" rx="2"/><text class="s" x="1612" y="712.5">ADK</text></g>
</g>
</svg>
